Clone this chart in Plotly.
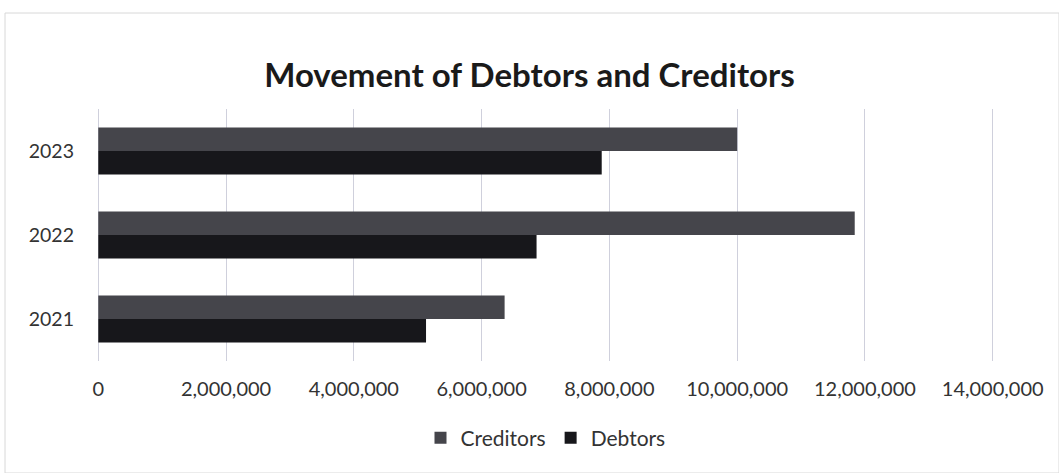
import plotly.graph_objects as go

years = ["2021", "2022", "2023"]
creditors = [6360000, 11840000, 10000000]
debtors = [5130000, 6860000, 7880000]
tick_vals = [0, 2000000, 4000000, 6000000, 8000000, 10000000, 12000000, 14000000]

FONT = "Lato"

fig = go.Figure()
fig.add_trace(go.Bar(y=years, x=debtors, name="Debtors", orientation="h",
                     marker=dict(color="#17171b", line=dict(width=0)), legendrank=2))
fig.add_trace(go.Bar(y=years, x=creditors, name="Creditors", orientation="h",
                     marker=dict(color="#45454b", line=dict(width=0)), legendrank=1))

fig.update_layout(
    width=1059, height=473,
    margin=dict(l=97, r=65, t=109, b=112),
    paper_bgcolor="white", plot_bgcolor="white",
    barmode="group", bargap=0.44, bargroupgap=0,
    title=dict(text="<b>Movement of Debtors and Creditors</b>", x=0.5, xanchor="center",
               y=1 - 75 / 473, yanchor="middle",
               font=dict(family=FONT, size=33, color="#1a1a1a")),
    font=dict(family=FONT, color="#333333"),
    xaxis=dict(range=[-20000, 14020000], tickvals=tick_vals, tickformat=",d",
               showgrid=True, gridcolor="#cfd0dc", gridwidth=1, zeroline=False,
               showline=False, ticks="", ticklabelstandoff=14,
               tickfont=dict(size=20, color="#333333")),
    yaxis=dict(showgrid=False, zeroline=False, showline=False, ticks="",
               ticklabelstandoff=22, tickfont=dict(size=19.5, color="#333333")),
    legend=dict(orientation="h", x=0.5, xanchor="center", y=1 - 438 / 473, yanchor="middle",
                yref="container", font=dict(size=21, color="#333333"), itemwidth=30,
                traceorder="normal"),
    showlegend=True,
)
fig.add_shape(type="rect", xref="paper", yref="paper", x0=-92/897, x1=1+65/897,
              y0=-112/252, y1=1 + 96/252, line=dict(color="#d8d8d8", width=1), layer="below")
fig.write_html("out.html")
